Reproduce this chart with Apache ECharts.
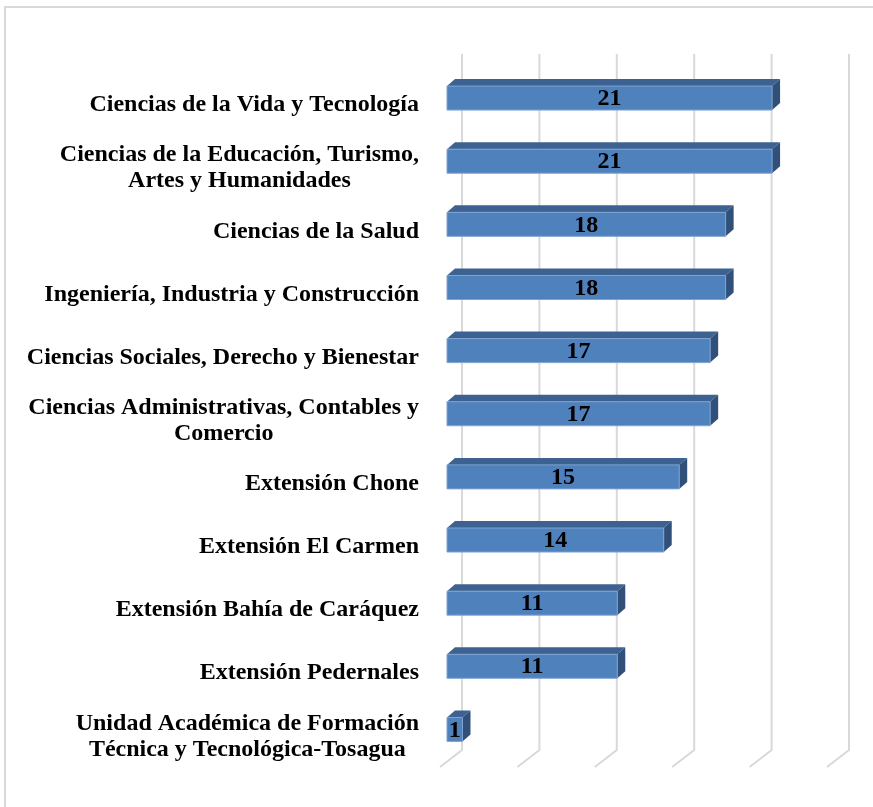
<!DOCTYPE html>
<html>
<head>
<meta charset="utf-8">
<script src="https://cdn.jsdelivr.net/npm/echarts@6/dist/echarts.min.js"></script>
<style>html,body{margin:0;padding:0;background:#fff;}#c{width:873px;height:807px;}</style>
</head>
<body>
<div id="c"></div>
<script>
const categories = [
  "Ciencias de la Vida y Tecnología",
  "Ciencias de la Educación, Turismo,\nArtes y Humanidades",
  "Ciencias de la Salud",
  "Ingeniería, Industria y Construcción",
  "Ciencias Sociales, Derecho y Bienestar",
  "Ciencias Administrativas, Contables y\nComercio",
  "Extensión Chone",
  "Extensión El Carmen",
  "Extensión Bahía de Caráquez",
  "Extensión Pedernales",
  "Unidad Académica de Formación\nTécnica y Tecnológica-Tosagua"
];
const values = [21, 21, 18, 18, 17, 17, 15, 14, 11, 11, 1];
const gridTicks = [0, 5, 10, 15, 20, 25];

const FAMILY = '"Liberation Serif", "Times New Roman", serif';
const FONT = 'bold 24px ' + FAMILY;
const BAR_RATIO = 0.38;
const DEPTH_X = 8, DEPTH_Y = 7;
const WALL_DX = 15, FLOOR_DX = -7;

function renderBar(params, api) {
  const v = api.value(0), c = api.value(1);
  const p0 = api.coord([0, c]);
  const p1 = api.coord([v, c]);
  const band = api.size([0, 1])[1];
  const h = band * BAR_RATIO;
  const x0 = p0[0], x1 = p1[0];
  const yT = p0[1] - h / 2, yB = p0[1] + h / 2;
  return {
    type: 'group',
    children: [
      {type: 'polygon', shape: {points: [[x0, yT], [x0 + DEPTH_X, yT - DEPTH_Y], [x1 + DEPTH_X, yT - DEPTH_Y], [x1, yT]]},
       style: {fill: '#3D6291'}},
      {type: 'polygon', shape: {points: [[x1, yT], [x1 + DEPTH_X, yT - DEPTH_Y], [x1 + DEPTH_X, yB - DEPTH_Y], [x1, yB]]},
       style: {fill: '#30507A'}},
      {type: 'rect', shape: {x: x0, y: yT, width: x1 - x0, height: h},
       style: {fill: '#4F81BD', stroke: '#7FA3D1', lineWidth: 1}},
      {type: 'text', style: {text: String(v), x: (x0 + x1) / 2, y: p0[1] + 1, align: 'center', verticalAlign: 'middle',
       font: FONT, fill: '#000'}}
    ]
  };
}

function renderGridLine(params, api) {
  const v = api.value(0);
  const cs = params.coordSys;
  const x = api.coord([v, 0])[0];
  const bottom = cs.y + cs.height;
  return {
    type: 'polyline',
    shape: {points: [[x + WALL_DX, cs.y - 12.5], [x + WALL_DX, bottom - 11], [x + FLOOR_DX, bottom + 6]]},
    style: {stroke: '#D9D9D9', lineWidth: 2, fill: null}
  };
}

const chart = echarts.init(document.getElementById('c'));
chart.setOption({
  animation: false,
  backgroundColor: '#fff',
  graphic: [{
    type: 'rect', shape: {x: 5, y: 7, width: 900, height: 850},
    style: {fill: null, stroke: '#D9D9D9', lineWidth: 2}, silent: true
  }],
  grid: {left: 447, right: 39, top: 66.5, bottom: 46, containLabel: false},
  xAxis: {type: 'value', min: 0, max: 25, interval: 5, show: false},
  yAxis: {
    type: 'category', data: categories, inverse: true,
    axisLine: {show: false}, axisTick: {show: false}, splitLine: {show: false},
    axisLabel: {
      margin: 28, color: '#000', fontSize: 24, fontWeight: 'bold',
      fontFamily: FAMILY,
      lineHeight: 26, padding: [14, 0, 0, 0],
      formatter: function (s) { return s.split('\n').map(l => '{c|' + l + '}').join('\n'); },
      rich: {c: {align: 'center', fontSize: 24, fontWeight: 'bold', lineHeight: 26,
                 fontFamily: FAMILY, color: '#000'}}
    }
  },
  series: [
    {type: 'custom', renderItem: renderGridLine, data: gridTicks.map(t => [t]), z: 1, silent: true},
    {type: 'custom', renderItem: renderBar, data: values.map((v, i) => [v, i]), z: 2,
     encode: {x: 0, y: 1}}
  ]
});
</script>
</body>
</html>
